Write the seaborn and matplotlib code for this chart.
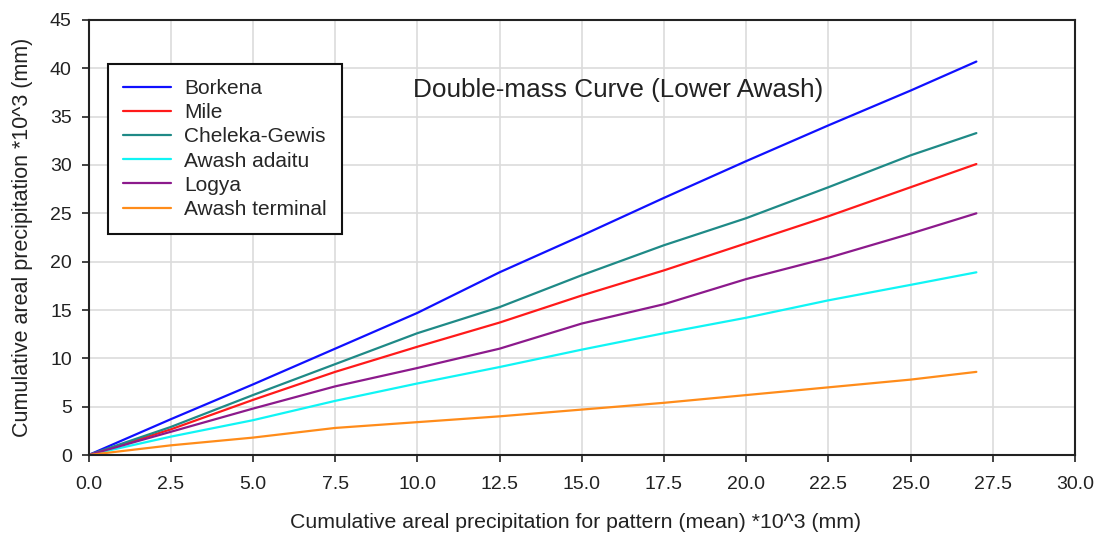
import matplotlib
matplotlib.use("Agg")
import matplotlib.pyplot as plt
import seaborn as sns
import pandas as pd
from matplotlib.ticker import FormatStrFormatter, MultipleLocator

# Cumulative areal precipitation for pattern (mean) *10^3 (mm)
x_vals = [0, 2.5, 5, 7.5, 10, 12.5, 15, 17.5, 20, 22.5, 25, 27]
borkena = [0, 3.7, 7.3, 11.0, 14.7, 18.9, 22.7, 26.6, 30.4, 34.1, 37.7, 40.7]
mile = [0, 2.65, 5.7, 8.6, 11.2, 13.7, 16.5, 19.1, 21.9, 24.7, 27.7, 30.1]
cheleka = [0, 2.9, 6.2, 9.4, 12.6, 15.3, 18.6, 21.7, 24.5, 27.7, 31.0, 33.3]
adaitu = [0, 1.9, 3.6, 5.6, 7.4, 9.1, 10.9, 12.6, 14.2, 16.0, 17.6, 18.9]
logya = [0, 2.4, 4.8, 7.1, 9.0, 11.0, 13.6, 15.6, 18.2, 20.4, 22.9, 25.0]
terminal = [0, 1.0, 1.8, 2.8, 3.4, 4.0, 4.7, 5.4, 6.2, 7.0, 7.8, 8.6]

series_names = ["Borkena", "Mile", "Cheleka-Gewis", "Awash adaitu", "Logya", "Awash terminal"]
series_vals = [borkena, mile, cheleka, adaitu, logya, terminal]
colors = ["#1010ff", "#ff1a1a", "#1f8a87", "#10f5f5", "#8c1a8c", "#ff8c1a"]

rows = []
for name, vals in zip(series_names, series_vals):
    for xv, yv in zip(x_vals, vals):
        rows.append({"x": xv, "y": yv, "station": name})
df = pd.DataFrame(rows)

sns.set_theme(style="whitegrid", rc={"xtick.bottom": True, "ytick.left": True})
plt.rcParams["font.family"] = ["Liberation Sans", "DejaVu Sans"]

fig = plt.figure(figsize=(11.01, 5.36), dpi=100)
ax = fig.add_axes([0.0804, 0.1511, 0.896, 0.8116])

sns.lineplot(data=df, x="x", y="y", hue="station", hue_order=series_names,
             palette=dict(zip(series_names, colors)), linewidth=1.6, ax=ax,
             legend=True)

ax.set_xlim(0, 30)
ax.set_ylim(0, 45)
ax.xaxis.set_major_locator(MultipleLocator(2.5))
ax.yaxis.set_major_locator(MultipleLocator(5))
ax.xaxis.set_major_formatter(FormatStrFormatter("%.1f"))
ax.yaxis.set_major_formatter(FormatStrFormatter("%d"))
ax.grid(True, color="#dcdcdc", linewidth=1.2)
for s in ax.spines.values():
    s.set_visible(True)
    s.set_color("#222222")
    s.set_linewidth(1.5)
ax.tick_params(axis="both", which="major", direction="out", length=5, width=1.2,
               color="#222222", labelsize=14, labelcolor="#222222",
               bottom=True, left=True)
ax.tick_params(axis="x", pad=10)
ax.tick_params(axis="y", pad=7)

ax.set_xlabel("Cumulative areal precipitation for pattern (mean) *10^3 (mm)",
              fontsize=15.3, color="#222222")
ax.xaxis.set_label_coords(0.494, -0.133)
ax.set_ylabel("Cumulative areal precipitation *10^3 (mm)",
              fontsize=15.5, color="#222222", labelpad=12)

ax.text(0.537, 0.838, "Double-mass Curve (Lower Awash)", transform=ax.transAxes,
        ha="center", va="center", fontsize=18.8, color="#222222")

leg = ax.legend(loc="upper left", bbox_to_anchor=(0.02, 0.898), fontsize=15,
                frameon=True, fancybox=False, framealpha=1, edgecolor="#111111",
                handlelength=2.3, labelspacing=0.25, borderpad=0.7, handletextpad=0.65,
                borderaxespad=0, title=None)
leg.get_frame().set_linewidth(1.5)

fig.savefig("out.png", dpi=100)
